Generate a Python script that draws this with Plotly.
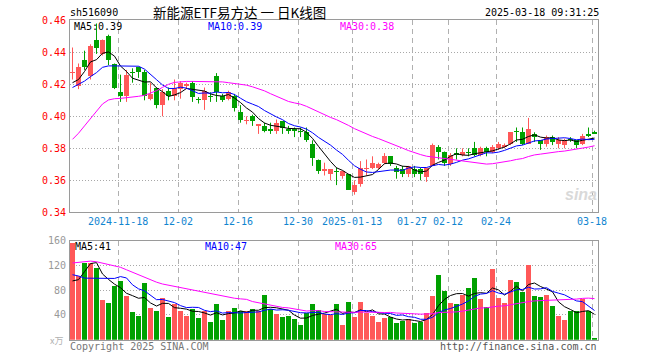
import plotly.graph_objects as go
import pandas as pd

# ---------------- data ----------------
dates = [
    "2024-11-06", "2024-11-07", "2024-11-08", "2024-11-11", "2024-11-12", "2024-11-13", "2024-11-14", "2024-11-15",
    "2024-11-18", "2024-11-19", "2024-11-20", "2024-11-21", "2024-11-22", "2024-11-25", "2024-11-26", "2024-11-27",
    "2024-11-28", "2024-11-29",
    "2024-12-02", "2024-12-03", "2024-12-04", "2024-12-05", "2024-12-06", "2024-12-09", "2024-12-10", "2024-12-11",
    "2024-12-12", "2024-12-13", "2024-12-16", "2024-12-17", "2024-12-18", "2024-12-19", "2024-12-20", "2024-12-23",
    "2024-12-24", "2024-12-25", "2024-12-26", "2024-12-27", "2024-12-30", "2024-12-31",
    "2025-01-02", "2025-01-03", "2025-01-06", "2025-01-07", "2025-01-08", "2025-01-09", "2025-01-10", "2025-01-13",
    "2025-01-14", "2025-01-15", "2025-01-16", "2025-01-17", "2025-01-20", "2025-01-21", "2025-01-22", "2025-01-23",
    "2025-01-24", "2025-01-27",
    "2025-02-05", "2025-02-06", "2025-02-07", "2025-02-10", "2025-02-11", "2025-02-12", "2025-02-13", "2025-02-14",
    "2025-02-17", "2025-02-18", "2025-02-19", "2025-02-20", "2025-02-21", "2025-02-24", "2025-02-25", "2025-02-26",
    "2025-02-27", "2025-02-28",
    "2025-03-03", "2025-03-04", "2025-03-05", "2025-03-06", "2025-03-07", "2025-03-10", "2025-03-11", "2025-03-12",
    "2025-03-13", "2025-03-14", "2025-03-17", "2025-03-18",
]

opens = [0.427, 0.419, 0.435, 0.425, 0.448, 0.439, 0.450, 0.433, 0.415, 0.413,
         0.428, 0.431, 0.428, 0.411, 0.418, 0.407, 0.416, 0.413, 0.417, 0.419,
         0.421, 0.411, 0.410, 0.413, 0.425, 0.413, 0.411, 0.413, 0.403, 0.397,
         0.400, 0.394, 0.394, 0.392, 0.391, 0.397, 0.392, 0.392, 0.391, 0.390,
         0.383, 0.373, 0.366, 0.364, 0.366, 0.363, 0.364, 0.353, 0.358, 0.367,
         0.368, 0.368, 0.371, 0.375, 0.368, 0.367, 0.364, 0.367, 0.367, 0.362,
         0.369, 0.381, 0.378, 0.370, 0.377, 0.376, 0.378, 0.380, 0.376, 0.380,
         0.378, 0.380, 0.381, 0.383, 0.391, 0.390, 0.383, 0.389, 0.385, 0.383,
         0.387, 0.383, 0.382, 0.386, 0.385, 0.383, 0.389, 0.390]
highs = [0.443, 0.433, 0.441, 0.445, 0.458, 0.448, 0.451, 0.433, 0.426, 0.429,
         0.430, 0.431, 0.429, 0.421, 0.418, 0.417, 0.418, 0.423, 0.422, 0.421,
         0.422, 0.412, 0.418, 0.415, 0.427, 0.414, 0.416, 0.414, 0.407, 0.400,
         0.401, 0.395, 0.396, 0.396, 0.398, 0.397, 0.394, 0.393, 0.393, 0.393,
         0.385, 0.373, 0.371, 0.367, 0.368, 0.366, 0.364, 0.360, 0.372, 0.373,
         0.375, 0.371, 0.377, 0.375, 0.369, 0.369, 0.369, 0.369, 0.368, 0.368,
         0.383, 0.382, 0.378, 0.377, 0.380, 0.380, 0.380, 0.384, 0.381, 0.381,
         0.382, 0.384, 0.383, 0.390, 0.393, 0.393, 0.399, 0.390, 0.385, 0.388,
         0.388, 0.387, 0.386, 0.387, 0.385, 0.389, 0.393, 0.391]
lows = [0.423, 0.417, 0.429, 0.423, 0.439, 0.438, 0.432, 0.417, 0.409, 0.409,
        0.421, 0.424, 0.410, 0.410, 0.405, 0.400, 0.410, 0.410, 0.411, 0.417,
        0.409, 0.408, 0.404, 0.409, 0.409, 0.409, 0.410, 0.403, 0.396, 0.395,
        0.394, 0.389, 0.390, 0.389, 0.389, 0.389, 0.389, 0.387, 0.387, 0.384,
        0.369, 0.364, 0.363, 0.360, 0.357, 0.361, 0.354, 0.351, 0.356, 0.363,
        0.367, 0.367, 0.370, 0.369, 0.361, 0.362, 0.362, 0.362, 0.360, 0.359,
        0.369, 0.373, 0.369, 0.369, 0.373, 0.375, 0.375, 0.375, 0.375, 0.375,
        0.377, 0.379, 0.380, 0.382, 0.384, 0.382, 0.383, 0.384, 0.379, 0.381,
        0.382, 0.380, 0.380, 0.384, 0.380, 0.382, 0.387, 0.389]
closes = [0.428, 0.431, 0.431, 0.444, 0.443, 0.448, 0.435, 0.418, 0.413, 0.426,
          0.427, 0.428, 0.413, 0.414, 0.407, 0.415, 0.413, 0.418, 0.421, 0.420,
          0.412, 0.410, 0.416, 0.412, 0.415, 0.410, 0.415, 0.405, 0.398, 0.398,
          0.397, 0.395, 0.391, 0.391, 0.396, 0.393, 0.391, 0.391, 0.390, 0.385,
          0.374, 0.366, 0.367, 0.367, 0.365, 0.366, 0.354, 0.357, 0.368, 0.368,
          0.371, 0.370, 0.375, 0.370, 0.365, 0.364, 0.369, 0.364, 0.364, 0.368,
          0.382, 0.378, 0.371, 0.376, 0.376, 0.378, 0.377, 0.376, 0.380, 0.378,
          0.381, 0.383, 0.382, 0.390, 0.390, 0.383, 0.392, 0.387, 0.383, 0.387,
          0.384, 0.385, 0.385, 0.385, 0.382, 0.388, 0.388, 0.389]
volumes = [156, 103, 124, 124, 116, 64, 59, 86, 95, 71,
           45, 38, 92, 51, 46, 67, 37, 58, 46, 39,
           50, 35, 46, 29, 58, 32, 46, 51, 46, 46,
           49, 46, 72, 49, 42, 37, 38, 33, 24, 43,
           58, 48, 42, 40, 58, 24, 61, 37, 61, 43,
           39, 29, 35, 37, 27, 31, 33, 27, 29, 43,
           71, 105, 78, 60, 58, 72, 84, 100, 66, 53,
           115, 68, 59, 97, 93, 77, 120, 71, 69, 72,
           55, 39, 32, 46, 46, 65, 46, 2]

# moving-average values before enough visible history exists
ma5_head = [0.421, 0.423, 0.428, 0.434]
ma10_head = [0.418, 0.4202, 0.422, 0.4248, 0.4273, 0.4306, 0.4315, 0.4315, 0.4315]
ma30_head = [0.3856, 0.3894, 0.394, 0.3987, 0.4035, 0.4077, 0.4102, 0.411, 0.4112, 0.4115,
             0.412, 0.4125, 0.4131, 0.4144, 0.416, 0.4181, 0.42, 0.4212, 0.4217, 0.4218,
             0.4218, 0.4218, 0.4218, 0.4218, 0.4217, 0.4215, 0.421, 0.4206, 0.4202]
vol_ma5_head = [95, 97, 110, 123]
vol_ma10_head = [105, 103, 99.5, 99.5, 99.5, 99.5, 99, 99, 102]
vol_ma30_head = [124, 125, 126, 127, 126, 124, 122, 120, 117, 113, 109, 104, 100, 96, 93,
                 90, 88, 86, 84, 82, 80, 78, 76, 74, 72, 70, 68.5, 67, 66]

tick_dates = ["2024-11-18", "2024-12-02", "2024-12-16", "2024-12-30", "2025-01-13",
              "2025-01-27", "2025-02-12", "2025-02-24", "2025-03-18"]
tick_labels = ["2024-11-18", "12-02", "12-16", "12-30", "2025-01-13",
               "01-27", "02-12", "02-24", "03-18"]
price_ticks = [0.46, 0.44, 0.42, 0.40, 0.38, 0.36, 0.34]
vol_ticks = [160, 120, 80, 40]

title_code = "sh516090"
title_text = "新能源ETF易方达 一 日K线图"
timestamp = "2025-03-18 09:31:25"
price_legend = ["MA5:0.39", "MA10:0.39", "MA30:0.38"]
vol_legend = ["MA5:41", "MA10:47", "MA30:65"]

# ---------------- helpers ----------------
W, H = 660, 360
RED = "#ff5858"
GREEN = "#00a100"
MA_COLORS = ["#000000", "#0000ff", "#ff00ff"]
MONO = "DejaVu Sans Mono"


def ma(values, n, head):
    s = pd.Series(values, dtype=float).rolling(n).mean().tolist()
    for k in range(n - 1):
        s[k] = head[k]
    return s


def px(x):
    return x / W


def py(y):
    return 1 - y / H


n = len(dates)
xs = list(range(n))
up = [c >= o for o, c in zip(opens, closes)]
colors = [RED if u else GREEN for u in up]

fig = go.Figure()

# wicks
for flag, col in [(True, RED), (False, GREEN)]:
    wx, wy = [], []
    for i in xs:
        if up[i] == flag:
            wx += [i, i, None]
            wy += [lows[i], highs[i], None]
    fig.add_trace(go.Scatter(x=wx, y=wy, mode="lines", line=dict(color=col, width=1),
                             hoverinfo="skip", showlegend=False, xaxis="x", yaxis="y"))

# bodies
body_h = [max(abs(c - o), 0.0007) for o, c in zip(opens, closes)]
body_b = [min(o, c) for o, c in zip(opens, closes)]
fig.add_trace(go.Bar(x=xs, y=body_h, base=body_b, width=0.8, marker=dict(color=colors, line=dict(width=0)),
                     showlegend=False, xaxis="x", yaxis="y"))

# price MAs
for n_, head, col in [(5, ma5_head, MA_COLORS[0]), (10, ma10_head, MA_COLORS[1]), (30, ma30_head, MA_COLORS[2])]:
    fig.add_trace(go.Scatter(x=xs, y=ma(closes, n_, head), mode="lines", line=dict(color=col, width=1),
                             showlegend=False, xaxis="x", yaxis="y"))

# volume bars
fig.add_trace(go.Bar(x=xs, y=volumes, width=0.84, marker=dict(color=colors, line=dict(width=0)),
                     showlegend=False, xaxis="x2", yaxis="y2"))
for n_, head, col in [(5, vol_ma5_head, MA_COLORS[0]), (10, vol_ma10_head, MA_COLORS[1]),
                      (30, vol_ma30_head, MA_COLORS[2])]:
    fig.add_trace(go.Scatter(x=xs, y=ma(volumes, n_, head), mode="lines", line=dict(color=col, width=1),
                             showlegend=False, xaxis="x2", yaxis="y2"))

grid_x = [dates.index(d) - 0.37 for d in tick_dates]
xrange_ = [(70 - 72.5) / 6, (598 - 72.5) / 6]
xdom = [px(70), px(598)]

axis_common = dict(showline=True, mirror=True, linecolor="#9a9a9a", linewidth=1, zeroline=False,
                   showticklabels=False, ticks="", fixedrange=True)

fig.update_layout(
    width=W, height=H, margin=dict(l=0, r=0, t=0, b=0),
    paper_bgcolor="white", plot_bgcolor="white", barmode="overlay", bargap=0,
    showlegend=False,
    xaxis=dict(domain=xdom, range=xrange_, tickmode="array", tickvals=grid_x, showgrid=True,
               gridcolor="#b0b0b0", griddash="5px,4px", gridwidth=1, anchor="y", **axis_common),
    yaxis=dict(domain=[py(212.3), py(20.3)], range=[0.34, 0.46], tickmode="array",
               tickvals=[0.36, 0.38, 0.40, 0.42, 0.44], showgrid=True, gridcolor="#a8a8a8",
               griddash="1px,2px", gridwidth=1, anchor="x", **axis_common),
    xaxis2=dict(domain=xdom, range=xrange_, tickmode="array", tickvals=grid_x, showgrid=True,
                gridcolor="#b0b0b0", griddash="5px,4px", gridwidth=1, anchor="y2", **axis_common),
    yaxis2=dict(domain=[py(339.7), py(240.7)], range=[0, 160], tickmode="array",
                tickvals=[40, 80, 120], showgrid=True, gridcolor="#a8a8a8",
                griddash="1px,2px", gridwidth=1, anchor="x2", **axis_common),
)

ann = []


def add_text(text, x, y, size, color, xanchor="left", family=MONO, xref="paper", yref="paper"):
    ann.append(dict(text=text, x=x, y=y, xref=xref, yref=yref, xanchor=xanchor, yanchor="middle",
                    showarrow=False, font=dict(family=family, size=size, color=color), borderpad=0))


# header
add_text(title_code, px(69), py(13), 10, "#000000")
add_text(title_text, px(239), py(12.3), 13.5, "#000000", xanchor="center", family="Noto Sans CJK SC")
add_text(timestamp, px(600), py(13), 10, "#000000", xanchor="right")

# price legend
for txt, xx, col in zip(price_legend, [73, 207, 339], MA_COLORS):
    add_text(txt, px(xx), py(26.8), 10, col)
# volume legend
for txt, xx, col in zip(vol_legend, [74, 204, 334], MA_COLORS):
    add_text(txt, px(xx), py(246), 10, col)

# price y labels
for v in price_ticks:
    yy = 20.3 + (0.46 - v) / 0.12 * 192
    add_text(f"{v:.2f}", px(67), py(yy), 10, "#ff0000", xanchor="right")
# volume y labels
for v in vol_ticks:
    yy = 339.7 - v / 160 * 99
    add_text(str(v), px(67), py(yy), 10, "#999999", xanchor="right")
add_text("x万", px(64), py(340), 9, "#b0b0b0", xanchor="right", family="Noto Sans CJK SC")

# x tick labels
for gx, lab in zip(grid_x, tick_labels):
    ann.append(dict(text=lab, x=gx, y=py(221.5), xref="x", yref="paper", xanchor="center",
                    yanchor="middle", showarrow=False, font=dict(family=MONO, size=10, color="#1185d0")))

# footer
add_text("Copyright 2025 SINA.COM", px(69), py(346), 10, "#777777")
add_text("http://finance.sina.com.cn", px(598), py(346), 10, "#555555", xanchor="right")

# watermark
add_text("<b><i>sina</i></b>", px(581), py(194), 16, "#d9d9d9", xanchor="center", family="Arial")

fig.update_layout(annotations=ann)

fig.write_html("out.html", config={"displayModeBar": False, "staticPlot": True},
               post_script="document.body.style.margin='0px';")
